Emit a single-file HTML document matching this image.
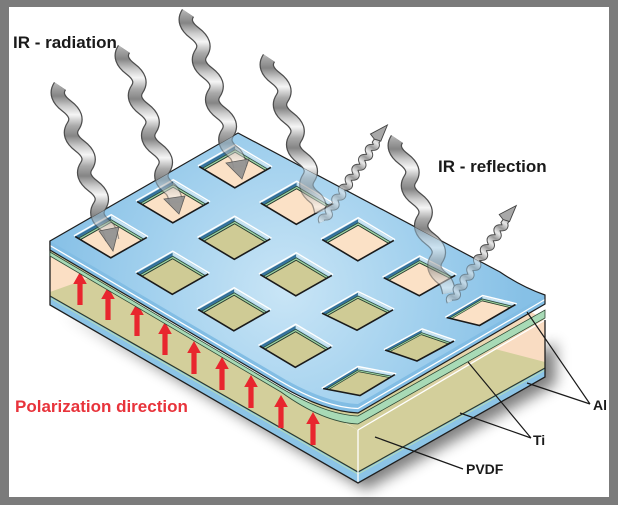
<!DOCTYPE html>
<html><head><meta charset="utf-8">
<style>html,body{margin:0;padding:0;background:#fff}svg{display:block}
text{font-family:"Liberation Sans",Arial,sans-serif;font-weight:bold}</style></head>
<body>
<svg xmlns="http://www.w3.org/2000/svg" xmlns:xlink="http://www.w3.org/1999/xlink" width="618" height="505" viewBox="0 0 618 505">
<defs>
  <filter id="blur" x="-20%" y="-20%" width="140%" height="160%"><feGaussianBlur stdDeviation="7"/></filter>
  <radialGradient id="pg" gradientUnits="userSpaceOnUse" cx="285" cy="290" r="240">
    <stop offset="0" stop-color="#c9e5f6"/>
    <stop offset="0.55" stop-color="#a3d1ee"/>
    <stop offset="1" stop-color="#86c0e6"/>
  </radialGradient>
  <linearGradient id="topg" gradientUnits="userSpaceOnUse" x1="400" y1="0" x2="540" y2="0">
    <stop offset="0" stop-color="#d3cf9b"/>
    <stop offset="1" stop-color="#f9dcc2"/>
  </linearGradient>
  <linearGradient id="wallL" x1="0" y1="0" x2="1" y2="0">
    <stop offset="0" stop-color="#2a6792"/>
    <stop offset="1" stop-color="#4f93bf"/>
  </linearGradient>
  <linearGradient id="wallR" x1="0" y1="0" x2="0" y2="1">
    <stop offset="0" stop-color="#d3ebf8"/>
    <stop offset="1" stop-color="#8fc3e3"/>
  </linearGradient>
  <linearGradient id="wg" gradientUnits="userSpaceOnUse" x1="0" y1="0" x2="0" y2="40" spreadMethod="repeat">
    <stop offset="0" stop-color="#a9a9a9"/>
    <stop offset="0.25" stop-color="#858585"/>
    <stop offset="0.5" stop-color="#c9c9c9"/>
    <stop offset="0.72" stop-color="#f5f5f5"/>
    <stop offset="1" stop-color="#a9a9a9"/>
  </linearGradient>
  <linearGradient id="rg" gradientUnits="userSpaceOnUse" x1="0" y1="0" x2="12" y2="0" spreadMethod="repeat">
    <stop offset="0" stop-color="#e8e8e8"/>
    <stop offset="0.5" stop-color="#9a9a9a"/>
    <stop offset="1" stop-color="#e8e8e8"/>
  </linearGradient>
  <mask id="ghost" maskUnits="userSpaceOnUse" x="0" y="0" width="618" height="505">
    <rect width="618" height="505" fill="#fff"/>
    <path d="M238,133 L500,272 Q522,287 545,295 L358,404 C335,403 310,394 281,377 L50,241 Z" fill="#8a8a8a"/>
  </mask>

  <g id="hP">
    <rect x="-1" y="-1" width="2" height="2" fill="#fbe1c6"/>
    <polygon points="-1,-1 -0.71,-0.71 -0.71,1 -1,1" fill="url(#wallL)"/>
    <polygon points="-1,-1 1,-1 1,-0.71 -0.71,-0.71" fill="url(#wallR)"/>
    <polyline points="-0.71,1 -0.71,-0.71 1,-0.71" fill="none" stroke="#26382a" stroke-width="1" vector-effect="non-scaling-stroke"/>
    <polyline points="-0.77,1 -0.77,-0.77 1,-0.77" fill="none" stroke="#9fd49f" stroke-width="1.2" vector-effect="non-scaling-stroke"/>
    <polyline points="-0.83,1 -0.83,-0.83 1,-0.83" fill="none" stroke="#2c4a3a" stroke-width="0.8" vector-effect="non-scaling-stroke"/>
    <polyline points="1,-1 1,1 -1,1" fill="none" stroke="#1a1a1a" stroke-width="1.6" vector-effect="non-scaling-stroke"/>
    <polyline points="-1.07,1 -1.07,-1.07 1,-1.07" fill="none" stroke="#ffffff" stroke-width="1.4" vector-effect="non-scaling-stroke"/>
  </g>
  <g id="hO">
    <rect x="-1" y="-1" width="2" height="2" fill="#cfcb95"/>
    <polygon points="-1,-1 -0.71,-0.71 -0.71,1 -1,1" fill="url(#wallL)"/>
    <polygon points="-1,-1 1,-1 1,-0.71 -0.71,-0.71" fill="url(#wallR)"/>
    <polyline points="-0.71,1 -0.71,-0.71 1,-0.71" fill="none" stroke="#26382a" stroke-width="1" vector-effect="non-scaling-stroke"/>
    <polyline points="-0.77,1 -0.77,-0.77 1,-0.77" fill="none" stroke="#9fd49f" stroke-width="1.2" vector-effect="non-scaling-stroke"/>
    <polyline points="-0.83,1 -0.83,-0.83 1,-0.83" fill="none" stroke="#2c4a3a" stroke-width="0.8" vector-effect="non-scaling-stroke"/>
    <polyline points="1,-1 1,1 -1,1" fill="none" stroke="#1a1a1a" stroke-width="1.6" vector-effect="non-scaling-stroke"/>
    <polyline points="-1.07,1 -1.07,-1.07 1,-1.07" fill="none" stroke="#ffffff" stroke-width="1.4" vector-effect="non-scaling-stroke"/>
  </g>

  <g id="wave">
    <path d="M0,0 q-6.7,10 6.6,20 t6.6,20 t6.6,20 t6.6,20 t6.6,20 t6.6,20 t6.6,20 q4,3 6,14" fill="none" stroke="#4d4d4d" stroke-width="14.5"/>
    <path d="M0,0 q-6.7,10 6.6,20 t6.6,20 t6.6,20 t6.6,20 t6.6,20 t6.6,20 t6.6,20 q4,3 6,14" fill="none" stroke="url(#wg)" stroke-width="12"/>
  </g>

  <g id="refl">
    <path d="M0,0 q3,-5 6,0 t6,0 t6,0 t6,0 t6,0 t6,0 t6,0 t6,0 t6,0 t6,0 t6,0 t6,0 t6,0 t6,0 t6,0 t6,0 l4,0" fill="none" stroke="#4d4d4d" stroke-width="7"/>
    <path d="M0,0 q3,-5 6,0 t6,0 t6,0 t6,0 t6,0 t6,0 t6,0 t6,0 t6,0 t6,0 t6,0 t6,0 t6,0 t6,0 t6,0 t6,0 l4,0" fill="none" stroke="url(#rg)" stroke-width="5"/>
    <polygon points="98,-3 100,-9 117,0 100,3.5" fill="#a8a8a8" stroke="#444" stroke-width="0.9"/>
  </g>

  <path id="ra" d="M-2.6,33 L2.6,33 L2.6,12 L6.8,12 L0,0 L-6.8,12 L-2.6,12 Z" fill="#e8262e"/>
</defs>

<!-- frame -->
<rect x="0" y="0" width="618" height="505" fill="#7b7b7b"/>
<rect x="9" y="7" width="600" height="490" fill="#ffffff"/>

<!-- shadow -->
<path d="M55,300 L358,478 L548,372 L548,330 L358,440 Z" transform="translate(8,12)" fill="#000" opacity="0.5" filter="url(#blur)"/>

<!-- block -->
<path d="M50,252 L240,143 L545,320 L358,430 Z" fill="url(#topg)"/>
<path d="M50,252 L281,388 L358,430 L358,472 L50,296 Z" fill="#d3cf9b"/>
<path d="M50,252 L50,292 L92,277 Z" fill="#fbdfc4"/>
<path d="M358,430 L545,320 L545,368 L358,472 Z" fill="#d3cf9b"/>
<path d="M495,349 L545,320 L545,362 Z" fill="#f9dcc2"/>
<path d="M50,296 L358,472 L545,368 L545,377 L358,483 L50,305 Z" fill="#8cc4e6"/>
<polyline points="50,296 358,472 545,368" fill="none" stroke="#2d3b2d" stroke-width="1.2"/>
<polyline points="50,298 358,474 545,370" fill="none" stroke="#b5dcb5" stroke-width="1"/>
<line x1="358" y1="430" x2="358" y2="483" stroke="#fff" stroke-width="1.3"/>
<line x1="358" y1="430" x2="545" y2="320" stroke="#fff" stroke-width="1.3"/>
<path d="M50,241 L50,305 L358,483 L545,377 L545,320" fill="none" stroke="#1e1e1e" stroke-width="1.3"/>

<!-- red arrows -->
<use xlink:href="#ra" transform="translate(80,272)"/>
<use xlink:href="#ra" transform="translate(108,287)"/>
<use xlink:href="#ra" transform="translate(137,303)"/>
<use xlink:href="#ra" transform="translate(165,322)"/>
<use xlink:href="#ra" transform="translate(194,341)"/>
<use xlink:href="#ra" transform="translate(222,357)"/>
<use xlink:href="#ra" transform="translate(251,375)"/>
<use xlink:href="#ra" transform="translate(281,395)"/>
<use xlink:href="#ra" transform="translate(313,412)"/>

<!-- Ti layer under plate -->
<path d="M50,252 L281,388 C310,405 335,415 358,416 L545,310 L545,318 L358,424 C336,423 310,413 281,392 L50,256 Z" fill="#a8dab6" stroke="#2f4a36" stroke-width="0.8"/>

<!-- plate -->
<path d="M238,133 L500,272 Q522,287 545,295 L545,304 L358,413 C335,412 310,403 281,386 L50,250 L50,241 Z" fill="#82bde4"/>
<path d="M238,133 L500,272 Q522,287 545,295 L358,404 C335,403 310,394 281,377 L50,241 Z" fill="url(#pg)"/>
<path d="M50,245.5 L281,381.5 C310,398.5 335,408 358,408.5 L545,299.5" fill="none" stroke="#fff" stroke-width="1.3"/>
<path d="M238,133 L500,272 Q522,287 545,295 L545,304 L358,413 C335,412 310,403 281,386 L50,250 L50,241 Z" fill="none" stroke="#1e1e1e" stroke-width="1.2"/>

<!-- holes -->
<use xlink:href="#hP" transform="matrix(17.8 10.6 -18 10.2 235 167)"/>
<use xlink:href="#hP" transform="matrix(17.8 10.6 -18 10.2 296.5 203.5)"/>
<use xlink:href="#hP" transform="matrix(17.8 10.6 -18 10.2 358 240)"/>
<use xlink:href="#hP" transform="matrix(17.8 9 -18 10.2 419.5 276.5)"/>
<use xlink:href="#hP" transform="matrix(16.5 4 -18 10.5 481 311)"/>
<use xlink:href="#hP" transform="matrix(17.8 10.6 -18 10.2 173 202)"/>
<use xlink:href="#hO" transform="matrix(17.8 10.6 -18 10.2 234.5 238.5)"/>
<use xlink:href="#hO" transform="matrix(17.8 10.6 -18 10.2 296 275)"/>
<use xlink:href="#hO" transform="matrix(17.5 8.5 -18 10.2 357.5 311.5)"/>
<use xlink:href="#hO" transform="matrix(16 5.5 -18.5 10 419.5 345.5)"/>
<use xlink:href="#hP" transform="matrix(17.8 10.6 -18 10.2 111 237)"/>
<use xlink:href="#hO" transform="matrix(17.8 10.6 -18 10.2 172.5 273.5)"/>
<use xlink:href="#hO" transform="matrix(17.8 10.6 -18 10.2 234 310)"/>
<use xlink:href="#hO" transform="matrix(17.8 10.6 -18 10.2 295.5 346.5)"/>
<use xlink:href="#hO" transform="matrix(18.5 3.5 -17.5 10.5 359 381.5)"/>

<!-- waves -->
<g mask="url(#ghost)">
  <use xlink:href="#wave" transform="translate(60,86)"/>
  <use xlink:href="#wave" transform="translate(124,49)"/>
  <use xlink:href="#wave" transform="translate(188,13)"/>
  <use xlink:href="#wave" transform="translate(269,58)"/>
  <use xlink:href="#wave" transform="translate(397,139)"/>
  <use xlink:href="#refl" transform="translate(322,222) rotate(-56)"/>
  <use xlink:href="#refl" transform="translate(450,302) rotate(-55.5)"/>
</g>
<g fill="#8f8f8f" stroke="#505050" stroke-width="0.8" opacity="0.9">
  <polygon points="99,231 119,227 113,251"/>
  <polygon points="164,199 185,196 179,214"/>
  <polygon points="226,163 249,159 242,179"/>
</g>

<!-- leader lines -->
<path d="M590,404 L527,312 M590,404 L527,383 M531,438 L468,362 M531,438 L460,413 M463,469 L375,437" stroke="#1a1a1a" stroke-width="1.2" fill="none"/>

<!-- labels -->
<text x="13" y="48" font-size="17" fill="#1a1a1a">IR - radiation</text>
<text x="438" y="172" font-size="17" fill="#1a1a1a">IR - reflection</text>
<text x="15" y="412" font-size="17" fill="#e8333b">Polarization direction</text>
<text x="593" y="410" font-size="14" fill="#1a1a1a">Al</text>
<text x="533" y="445" font-size="14" fill="#1a1a1a">Ti</text>
<text x="466" y="474" font-size="14" fill="#1a1a1a">PVDF</text>
</svg>
</body></html>
